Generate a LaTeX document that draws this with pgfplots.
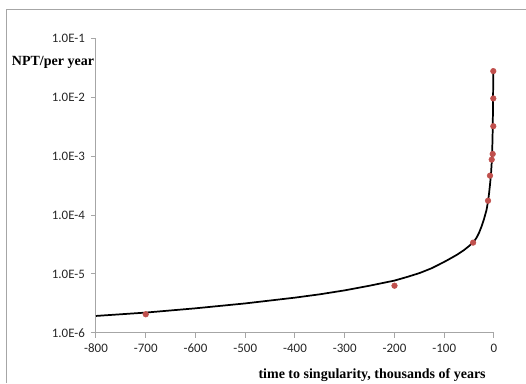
\documentclass[border=0pt]{standalone}
\usepackage{fontspec}
\setmainfont{Liberation Serif}
\newfontfamily\carlito{Carlito}
\usepackage{pgfplots}
\pgfplotsset{compat=1.18}
\definecolor{ptred}{HTML}{C0504D}
\definecolor{axgray}{HTML}{A6A6A6}
\begin{document}
\begin{tikzpicture}
\useasboundingbox (0,0) rectangle (394.5pt,287.25pt);
\draw[axgray, line width=0.75pt] (5.0pt,0pt) -- (5.0pt,280.3pt) -- (394.5pt,280.3pt);
\begin{axis}[
  at={(72pt,37.7pt)}, anchor=south west,
  scale only axis, width=298.5pt, height=220.7pt,
  xmin=-800, xmax=0, ymode=log, ymin=1e-6, ymax=1e-1,
  axis x line*=bottom, axis y line*=left,
  axis line style={draw=axgray, line width=0.75pt, -},
  tick align=outside, major tick length=3.75pt,
  tick style={draw=axgray, line width=0.75pt},
  minor tick num=0, yminorticks=false,
  xtick={-800,-700,-600,-500,-400,-300,-200,-100,0},
  xticklabels={-800,-700,-600,-500,-400,-300,-200,-100,0},
  ytick={1e-6,1e-5,1e-4,1e-3,1e-2,1e-1},
  yticklabels={1.0E-6,1.0E-5,1.0E-4,1.0E-3,1.0E-2,1.0E-1},
  ticklabel style={font=\fontsize{9.7}{11}\selectfont\carlito, text=black!85},
  yticklabel style={xshift=-1pt},
  xticklabel style={yshift=-1pt},
  xlabel={time to singularity, thousands of years},
  ylabel={NPT/per year},
  every axis x label/.style={at={(axis description cs:0.991,-0.1557)}, anchor=base east, font=\fontsize{10.5}{12}\selectfont\bfseries},
  every axis y label/.style={at={(axis description cs:-0.2229,0.9065)}, anchor=base west, font=\fontsize{10.5}{12}\selectfont\bfseries},
  clip=false,
]
\addplot[black, line width=1.3pt, no marks, line join=round] coordinates {
(-800,1.93e-6) (-700,2.2e-6) (-600,2.6e-6) (-500,3.15e-6) (-400,3.95e-6)
(-350,4.5e-6) (-300,5.25e-6) (-250,6.3e-6) (-200,7.7e-6) (-175,8.85e-6)
(-150,1.03e-5) (-125,1.25e-5) (-100,1.6e-5) (-90,1.78e-5) (-75,2.1e-5)
(-60,2.55e-5) (-50,2.98e-5) (-45,3.25e-5) (-40,3.58e-5) (-35,4.13e-5)
(-30,5.0e-5) (-25,6.4e-5) (-20,8.6e-5) (-15,1.22e-4) (-12,1.7e-4)
(-10,2.3e-4) (-8,3.3e-4) (-6,5.0e-4) (-4.5,8.0e-4) (-3.5,1.3e-3)
(-2.8,2.3e-3) (-2.2,5.0e-3) (-1.8,1.1e-2) (-1.5,2.8e-2)
};
\addplot[only marks, mark=*, mark size=2.1pt, color=ptred] coordinates {
(-700,2.06e-6) (-200,6.3e-6) (-42,3.4e-5) (-12,1.75e-4) (-8,4.67e-4)
(-4.6,8.75e-4) (-2.6,1.09e-3) (-1.4,3.23e-3) (-1.4,9.57e-3) (-1.4,2.79e-2)
};
\end{axis}
\end{tikzpicture}
\end{document}
